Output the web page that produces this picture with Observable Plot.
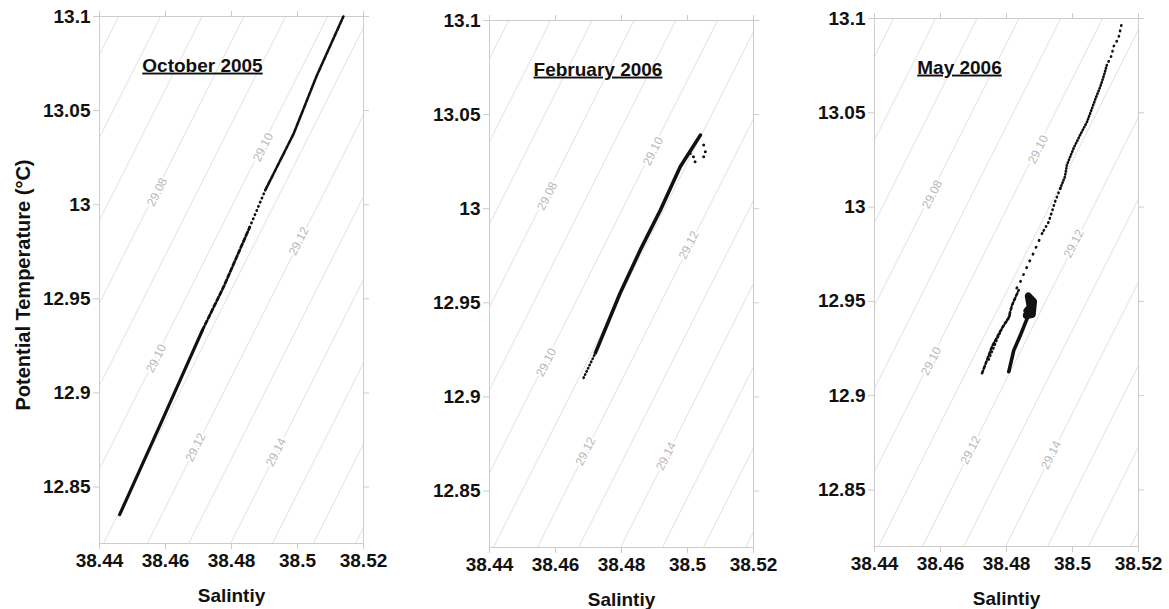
<!DOCTYPE html>
<html>
<head>
<meta charset="utf-8">
<script src="https://cdn.jsdelivr.net/npm/d3@7"></script>
<script src="https://cdn.jsdelivr.net/npm/@observablehq/plot@0.6"></script>
<style>
  html, body { margin: 0; padding: 0; background: #fff; }
  #wrap { position: relative; width: 1169px; height: 609px; overflow: hidden; }
  .panel { position: absolute; top: 0; }
</style>
</head>
<body>
<div id="wrap"></div>
<script>
// ---------- data ----------
const xTicks = [38.44, 38.46, 38.48, 38.5, 38.52];
const yTicks = [12.85, 12.9, 12.95, 13, 13.05, 13.1];
const panelTitles = ["October 2005", "February 2006", "May 2006"];

// isopycnals (sigma-theta): salinity where each line meets T=12.82 and T=13.1
const isoLevels  = [29.05, 29.06, 29.07, 29.08, 29.09, 29.10, 29.11, 29.12, 29.13, 29.14, 29.15, 29.16, 29.17];
const isoSBottom = [38.3653, 38.3780, 38.3906, 38.4033, 38.4159, 38.4286, 38.4412, 38.4545, 38.4670, 38.4797, 38.4924, 38.5048, 38.5176];
const isoSTop    = [38.4458, 38.4585, 38.4711, 38.4838, 38.4964, 38.5091, 38.5217, 38.5350, 38.5475, 38.5602, 38.5729, 38.5853, 38.5981];

// isopycnal labels
const isoLabelText = ["29.08", "29.10", "29.12", "29.10", "29.12", "29.14"];
const isoLabelS    = [38.4575, 38.4896, 38.5004, 38.4572, 38.4691, 38.4935];
const isoLabelT    = [13.0067, 13.0305, 12.9806, 12.9183, 12.8711, 12.8685];

// October 2005 profile
const octS = [38.4461, 38.4595, 38.4712, 38.4776, 38.4855, 38.4902, 38.4988, 38.5057, 38.5139];
const octT = [12.8353, 12.8874, 12.9334, 12.9563, 12.9880, 13.0076, 13.0376, 13.0680, 13.1000];

// February 2006 profile
const febS = [38.4685, 38.4721, 38.4796, 38.4857, 38.4918, 38.4978, 38.5039];
const febT = [12.9101, 12.9234, 12.9552, 12.9781, 12.9993, 13.0223, 13.0391];
const febScatS = [38.5049, 38.5054, 38.5049, 38.5018, 38.5023, 38.5008];
const febScatT = [13.0338, 13.0302, 13.0276, 13.0276, 13.0249, 13.0294];

// May 2006 profile (upper curve, two left strands, right branch, dense knot)
const mayS = [38.5148, 38.5139, 38.5124, 38.5119, 38.5104, 38.5094, 38.5084, 38.5072, 38.5059, 38.5044, 38.5023, 38.5003,
              38.4983, 38.4977, 38.4963, 38.4947, 38.4928, 38.4908, 38.4897, 38.4880, 38.4867, 38.4842, 38.4822];
const mayT = [13.0964, 13.0894, 13.0850, 13.0806, 13.0753, 13.0691, 13.0638, 13.0585, 13.0523, 13.0452, 13.0382, 13.0311,
              13.0223, 13.0161, 13.0099, 13.0028, 12.9922, 12.9861, 12.9816, 12.9749, 12.9702, 12.9604, 12.9543];
const mayL1S = [38.4726, 38.4756, 38.4786, 38.4806, 38.4817, 38.4837];
const mayL1T = [12.9119, 12.9260, 12.9357, 12.9410, 12.9481, 12.9560];
const mayL2S = [38.4746, 38.4771, 38.4791, 38.4812];
const mayL2T = [12.9190, 12.9295, 12.9375, 12.9428];
const mayRS = [38.4807, 38.4822, 38.4842, 38.4858, 38.4868];
const mayRT = [12.9127, 12.9240, 12.9320, 12.9390, 12.9430];
const mayKS = [38.4860, 38.4878, 38.4882, 38.4866, 38.4872, 38.4862];
const mayKT = [12.9425, 12.9430, 12.9500, 12.9528, 12.9470, 12.9450];

// ---------- helpers ----------
const FONT = "'Liberation Sans', Arial, Helvetica, sans-serif";
const INK = "#111";
const zip = (S, T) => S.map((s, i) => ({S: s, T: T[i]}));
const isoData = isoLevels.flatMap((l, i) => [
  {level: l, S: isoSBottom[i], T: 12.82},
  {level: l, S: isoSTop[i], T: 13.1}
]);
const isoLabels = isoLabelText.map((t, i) => ({text: t, S: isoLabelS[i], T: isoLabelT[i]}));

function seg(S, T, from, to, opts) {
  return Plot.line(zip(S, T).slice(from, to + 1), {
    x: "S", y: "T", stroke: INK, strokeLinecap: "round", strokeLinejoin: "round", ...opts
  });
}

const profiles = [
  [ // October 2005
    seg(octS, octT, 0, 2, {strokeWidth: 3.2}),
    seg(octS, octT, 2, 4, {strokeWidth: 2.8, strokeDasharray: "4,2.5"}),
    seg(octS, octT, 4, 5, {strokeWidth: 2.6, strokeDasharray: "0.5,4"}),
    seg(octS, octT, 5, 8, {strokeWidth: 2.6, strokeDasharray: "5,1.5"})
  ],
  [ // February 2006
    seg(febS, febT, 0, 1, {strokeWidth: 2.6, strokeDasharray: "0.5,3"}),
    seg(febS, febT, 1, 6, {strokeWidth: 3.6}),
    Plot.dot(zip(febScatS, febScatT), {x: "S", y: "T", r: 1.5, fill: INK})
  ],
  [ // May 2006
    seg(mayS, mayT, 0, 4, {strokeWidth: 2.6, strokeDasharray: "0.5,5"}),
    seg(mayS, mayT, 4, 14, {strokeWidth: 2.6, strokeDasharray: "0.5,2.5"}),
    seg(mayS, mayT, 14, 17, {strokeWidth: 2.6, strokeDasharray: "0.5,4"}),
    seg(mayS, mayT, 17, 22, {strokeWidth: 2.6, strokeDasharray: "0.5,7"}),
    seg(mayL1S, mayL1T, 0, 5, {strokeWidth: 2.6, strokeDasharray: "2.5,2.5"}),
    seg(mayL2S, mayL2T, 0, 3, {strokeWidth: 2.2, strokeDasharray: "1,3"}),
    seg(mayRS, mayRT, 0, 4, {strokeWidth: 3.6}),
    seg(mayKS, mayKT, 0, 5, {strokeWidth: 7})
  ]
];

const panels = [
  {left: 0,   top: 16, bottom: 66, titleDx: 103,   yLabel: true},
  {left: 390, top: 20, bottom: 62, titleDx: 108.5, yLabel: false},
  {left: 775, top: 18, bottom: 63, titleDx: 85,    yLabel: false}
];

const wrap = document.getElementById("wrap");
panels.forEach((p, k) => {
  const marks = [
    Plot.line(isoData, {x: "S", y: "T", z: "level", stroke: "#d9d9d9", strokeWidth: 0.8, clip: true}),
    Plot.text(isoLabels, {x: "S", y: "T", text: "text", rotate: -63, fill: "#b8b8b8",
      fontSize: 12, fontWeight: "normal", stroke: "white", strokeWidth: 4}),
    Plot.frame({stroke: "#cccccc"}),
    Plot.axisX(xTicks, {anchor: "bottom", tickSize: 6, tickPadding: 4, stroke: "#cccccc", fill: INK,
      tickFormat: d => String(d), label: null, fontSize: 19, fontWeight: "bold"}),
    Plot.axisX(xTicks, {anchor: "top", tickSize: 6, stroke: "#cccccc", tickFormat: () => "", label: null}),
    Plot.axisY(yTicks, {anchor: "left", tickSize: 6, tickPadding: 3, stroke: "#cccccc", fill: INK,
      tickFormat: d => String(d), label: null, fontSize: 19, fontWeight: "bold"}),
    Plot.axisY(yTicks, {anchor: "right", tickSize: 5, stroke: "#cccccc", tickFormat: () => "", label: null}),
    ...profiles[k],
    Plot.text([panelTitles[k]], {frameAnchor: "top-left", dx: p.titleDx, dy: 49, textAnchor: "middle",
      lineAnchor: "middle", fontSize: 19, fontWeight: "bold", fill: INK}),
    Plot.text(["Salintiy"], {frameAnchor: "bottom", dy: 52, lineAnchor: "middle",
      fontSize: 19, fontWeight: "bold", fill: INK})
  ];
  if (p.yLabel) {
    marks.push(Plot.text(["Potential Temperature (°C)"], {frameAnchor: "left", dx: -76, dy: 5, rotate: -90,
      textAnchor: "middle", lineAnchor: "middle", fontSize: 20, fontWeight: "bold", fill: INK}));
  }
  const svg = Plot.plot({
    width: 390, height: 609,
    marginLeft: 99, marginRight: 27, marginTop: p.top, marginBottom: p.bottom,
    x: {domain: [38.44, 38.52]},
    y: {domain: [12.82, 13.1]},
    style: {fontFamily: FONT, fontSize: "19px", fontWeight: "bold", background: "transparent", overflow: "visible"},
    marks
  });
  svg.querySelectorAll("text").forEach(t => {
    if (t.textContent === panelTitles[k]) t.style.textDecoration = "underline";
  });
  const div = document.createElement("div");
  div.className = "panel";
  div.style.left = p.left + "px";
  div.appendChild(svg);
  wrap.appendChild(div);
});
</script>
</body>
</html>
